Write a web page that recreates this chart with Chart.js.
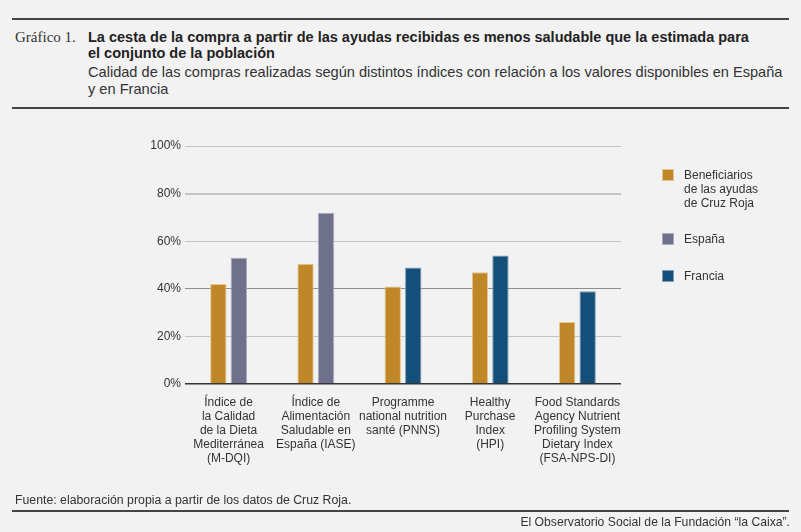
<!DOCTYPE html>
<html>
<head>
<meta charset="utf-8">
<script src="https://cdn.jsdelivr.net/npm/chart.js@4.4.1/dist/chart.umd.min.js"></script>
<style>
  html, body { margin: 0; padding: 0; }
  body { width: 801px; height: 532px; background: #f2f2f2; position: relative; overflow: hidden;
         font-family: "Liberation Sans", Arial, sans-serif; color: #333; }
  .rule { position: absolute; left: 12px; width: 777px; height: 2px; background: #444; }
  .abs { position: absolute; white-space: nowrap; }
  #num { left: 15px; top: 29px; font-family: "Liberation Serif", serif; font-size: 15px; line-height: 16px; color: #333; }
  #title { left: 88px; top: 30px; font-size: 14.5px; line-height: 15.5px; font-weight: bold; color: #222; }
  #subtitle { left: 88px; top: 64px; font-size: 14.6px; line-height: 17px; color: #333; }
  #source { left: 15px; top: 493px; font-size: 12.3px; line-height: 14px; }
  #credit { right: 11px; top: 515px; font-size: 12.2px; line-height: 14px; }
  #legend { position: absolute; left: 662px; top: 0; }
  .item { position: absolute; left: 0; white-space: nowrap; font-size: 12px; line-height: 14px; color: #333; }
  .item span.box { position: absolute; left: 0; width: 12px; height: 12px; box-sizing: border-box; }
  .item span.txt { position: absolute; left: 22px; }
  canvas { position: absolute; left: 0; top: 0; }
</style>
</head>
<body>
<div class="rule" style="top:18px"></div>
<div class="abs" id="num">Gráfico 1.</div>
<div class="abs" id="title">La cesta de la compra a partir de las ayudas recibidas es menos saludable que la estimada para<br>el conjunto de la población</div>
<div class="abs" id="subtitle">Calidad de las compras realizadas según distintos índices con relación a los valores disponibles en España<br>y en Francia</div>
<div class="rule" style="top:107px"></div>

<canvas id="chart" width="801" height="532"></canvas>
<div id="legend"></div>

<div class="abs" id="source">Fuente: elaboración propia a partir de los datos de Cruz Roja.</div>
<div class="rule" style="top:510px"></div>
<div class="abs" id="credit">El Observatorio Social de la Fundación “la Caixa”.</div>

<script>
const categories = [
    ['Índice de', 'la Calidad', 'de la Dieta', 'Mediterránea', '(M-DQI)'],
    ['Índice de', 'Alimentación', 'Saludable en', 'España (IASE)'],
    ['Programme', 'national nutrition', 'santé (PNNS)'],
    ['Healthy', 'Purchase', 'Index', '(HPI)'],
    ['Food Standards', 'Agency Nutrient', 'Profiling System', 'Dietary Index', '(FSA-NPS-DI)']
];
const beneficiarios = [42, 50.5, 41, 47, 26];
const espana = [53, 72, null, null, null];
const francia = [null, null, 49, 54, 39];
const yTicks = [0, 20, 40, 60, 80, 100];

const seriesNames = [['Beneficiarios', 'de las ayudas', 'de Cruz Roja'], ['España'], ['Francia']];
const seriesColors = ['#c08728', '#6f708c', '#134f79'];
const seriesEdges = ['#e6c88e', '#a9aabd', '#7e9db6'];

// legend drawn as html, positions follow the reference
const legendTops = [169, 233, 270];
const legend = document.getElementById('legend');
seriesNames.forEach(function (name, i) {
    const item = document.createElement('div');
    item.className = 'item';
    item.style.top = legendTops[i] + 'px';
    const box = document.createElement('span');
    box.className = 'box';
    box.style.background = seriesColors[i];
    box.style.border = '1px solid ' + seriesEdges[i];
    const txt = document.createElement('span');
    txt.className = 'txt';
    txt.style.top = '-1px';
    txt.innerHTML = name.join('<br>');
    item.appendChild(box);
    item.appendChild(txt);
    legend.appendChild(item);
});

const barData = [beneficiarios, espana, francia];

const ctx = document.getElementById('chart').getContext('2d');
new Chart(ctx, {
    type: 'bar',
    data: {
        labels: categories,
        datasets: barData.map(function (values, i) {
            return {
                label: seriesNames[i].join(' '),
                data: values,
                backgroundColor: seriesColors[i],
                borderColor: seriesEdges[i],
                borderWidth: { top: 1, left: 1, right: 1, bottom: 0 },
                skipNull: true,
                categoryPercentage: 0.47,
                barPercentage: 0.8
            };
        })
    },
    options: {
        responsive: false,
        animation: false,
        layout: { padding: { left: 0, right: 180, top: 146, bottom: 0 } },
        plugins: {
            legend: { display: false },
            tooltip: { enabled: false }
        },
        scales: {
            x: {
                grid: { display: false },
                border: { display: false },
                ticks: {
                    color: '#333',
                    font: { family: 'Liberation Sans', size: 12, lineHeight: 1.17 },
                    padding: 4,
                    maxRotation: 0,
                    autoSkip: false
                },
                afterFit: function (scale) { scale.height = 148; }
            },
            y: {
                min: 0,
                max: 100,
                afterBuildTicks: function (scale) {
                    scale.ticks = yTicks.map(v => ({ value: v }));
                },
                border: { display: false },
                grid: {
                    drawTicks: false,
                    color: function (c) {
                        const v = c.tick ? c.tick.value : null;
                        if (v === 0) return '#333';
                        if (v === 40) return '#8e8e8e';
                        return '#c4c4c4';
                    },
                    lineWidth: function (c) {
                        const v = c.tick ? c.tick.value : null;
                        if (v === 0) return 1.5;
                        if (v === 80) return 2;
                        return 1;
                    }
                },
                ticks: {
                    color: '#333',
                    font: { family: 'Liberation Sans', size: 12 },
                    padding: 4,
                    callback: function (v) { return v + '%'; }
                },
                afterFit: function (scale) { scale.width = 185; }
            }
        }
    }
});
</script>
</body>
</html>
